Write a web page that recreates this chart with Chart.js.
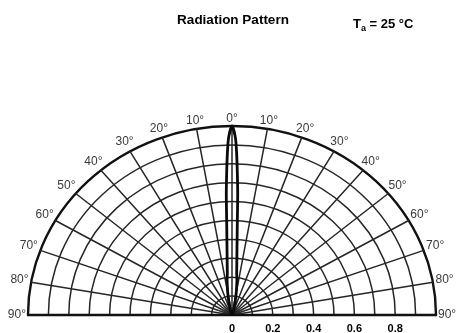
<!DOCTYPE html>
<html>
<head>
<meta charset="utf-8">
<script src="https://cdn.jsdelivr.net/npm/chart.js@4.4.1/dist/chart.umd.min.js"></script>
<style>
  html, body { margin: 0; padding: 0; background: #ffffff; }
  #wrap { width: 458px; height: 333px; position: relative; }
</style>
</head>
<body>
<div id="wrap"><canvas id="c"></canvas></div>
<script>
// Relative radiant intensity vs. angular displacement (degrees)
const angleDeg = [-20, -15, -12, -10, -7.5, -6, -5, -4, -3, -2.5, -2, -1.5, -1, 0,
                  1, 1.5, 2, 2.5, 3, 4, 5, 6, 7.5, 10, 12, 15, 20];
const intensity = [0.015, 0.04, 0.08, 0.12, 0.185, 0.22, 0.27, 0.35, 0.5, 0.64, 0.75, 0.86, 0.94, 1.0,
                   0.94, 0.86, 0.75, 0.64, 0.5, 0.35, 0.27, 0.22, 0.185, 0.12, 0.08, 0.04, 0.015];

// Polar grid: angular spokes and intensity rings
const spokeAngles = [-80, -70, -60, -50, -40, -30, -20, -10, 0, 10, 20, 30, 40, 50, 60, 70, 80];
const ringValues = [0.1, 0.2, 0.3, 0.4, 0.5, 0.6, 0.7, 0.8, 0.9, 1.0];
const angleLabels = ['90°', '80°', '70°', '60°', '50°', '40°', '30°', '20°', '10°', '0°',
                     '10°', '20°', '30°', '40°', '50°', '60°', '70°', '80°', '90°'];
const angleLabelPos = [-90, -80, -70, -60, -50, -40, -30, -20, -10, 0, 10, 20, 30, 40, 50, 60, 70, 80, 90];
const radialTicks = [0, 0.2, 0.4, 0.6, 0.8];
const radialTickLabels = ['0', '0.2', '0.4', '0.6', '0.8'];

const rad = d => d * Math.PI / 180;
const patternPoints = angleDeg.map((a, i) => ({
  x: intensity[i] * Math.sin(rad(a)),
  y: intensity[i] * Math.cos(rad(a))
}));
patternPoints.unshift({ x: 0, y: 0 });
patternPoints.push({ x: 0, y: 0 });

const polarGrid = {
  id: 'polarGrid',
  beforeDatasetsDraw(chart) {
    const { ctx, scales: { x, y } } = chart;
    const cx = x.getPixelForValue(0), cy = y.getPixelForValue(0);
    const px = (r, a) => [x.getPixelForValue(r * Math.sin(rad(a))), y.getPixelForValue(r * Math.cos(rad(a)))];
    ctx.save();
    ctx.lineCap = 'round';
    // rings
    ringValues.forEach(r => {
      const rx = x.getPixelForValue(r) - cx;
      const ry = cy - y.getPixelForValue(r);
      ctx.beginPath();
      ctx.ellipse(cx, cy, rx, ry, 0, Math.PI, 2 * Math.PI);
      ctx.lineWidth = r === 1.0 ? 2.4 : 1.5;
      ctx.strokeStyle = r === 1.0 ? '#111' : '#262626';
      ctx.stroke();
    });
    // spokes
    ctx.lineWidth = 1.5;
    ctx.strokeStyle = '#262626';
    spokeAngles.forEach(a => {
      const [ex, ey] = px(1, a);
      ctx.beginPath();
      ctx.moveTo(cx, cy);
      ctx.lineTo(ex, ey);
      ctx.stroke();
    });
    // base line (±90°)
    ctx.beginPath();
    ctx.moveTo(x.getPixelForValue(-1), cy);
    ctx.lineTo(x.getPixelForValue(1), cy);
    ctx.lineWidth = 2.4;
    ctx.strokeStyle = '#111';
    ctx.stroke();
    ctx.restore();
  },
  afterDraw(chart) {
    const { ctx, scales: { x, y } } = chart;
    ctx.save();
    // angle labels around the outer ring
    ctx.font = '12px "Liberation Sans", Arial, sans-serif';
    ctx.fillStyle = '#3a3a3a';
    ctx.textAlign = 'center';
    ctx.textBaseline = 'middle';
    angleLabels.forEach((t, i) => {
      const a = rad(angleLabelPos[i]);
      const ax = x.getPixelForValue(Math.sin(a));
      const ay = y.getPixelForValue(Math.cos(a));
      const w = ctx.measureText(t).width;
      const d = (w / 2) * Math.abs(Math.sin(a)) + 5 * Math.abs(Math.cos(a)) + 2;
      ctx.fillText(t, ax + d * Math.sin(a), ay - d * Math.cos(a));
    });
    // intensity tick labels
    ctx.font = 'bold 11px "Liberation Sans", Arial, sans-serif';
    ctx.fillStyle = '#000';
    const ty = y.getPixelForValue(0) + 14;
    radialTicks.forEach((v, i) => {
      ctx.fillText(radialTickLabels[i], x.getPixelForValue(v), ty);
    });
    // heading
    ctx.font = 'bold 13.5px "Liberation Sans", Arial, sans-serif';
    ctx.textBaseline = 'alphabetic';
    ctx.fillText('Radiation Pattern', 233, 24);
    // ambient temperature note
    ctx.textAlign = 'left';
    let tx = 353;
    ctx.font = 'bold 13px "Liberation Sans", Arial, sans-serif';
    ctx.fillText('T', tx, 28);
    tx += ctx.measureText('T').width;
    ctx.font = 'bold 9px "Liberation Sans", Arial, sans-serif';
    ctx.fillText('a', tx, 31);
    tx += ctx.measureText('a').width;
    ctx.font = 'bold 13px "Liberation Sans", Arial, sans-serif';
    ctx.fillText(' = 25 °C', tx, 28);
    ctx.restore();
  }
};

new Chart(document.getElementById('c'), {
  type: 'scatter',
  data: {
    datasets: [{
      data: patternPoints,
      showLine: true,
      borderColor: '#0a0a0a',
      borderWidth: 2.8,
      pointRadius: 0,
      tension: 0.25,
      clip: false
    }]
  },
  options: {
    responsive: true,
    maintainAspectRatio: false,
    animation: false,
    layout: { padding: { left: 28, right: 22, top: 126, bottom: 18 } },
    plugins: { legend: { display: false }, tooltip: { enabled: false } },
    scales: {
      x: { type: 'linear', min: -1, max: 1, display: false },
      y: { type: 'linear', min: 0, max: 1, display: false }
    }
  },
  plugins: [polarGrid]
});
</script>
</body>
</html>
